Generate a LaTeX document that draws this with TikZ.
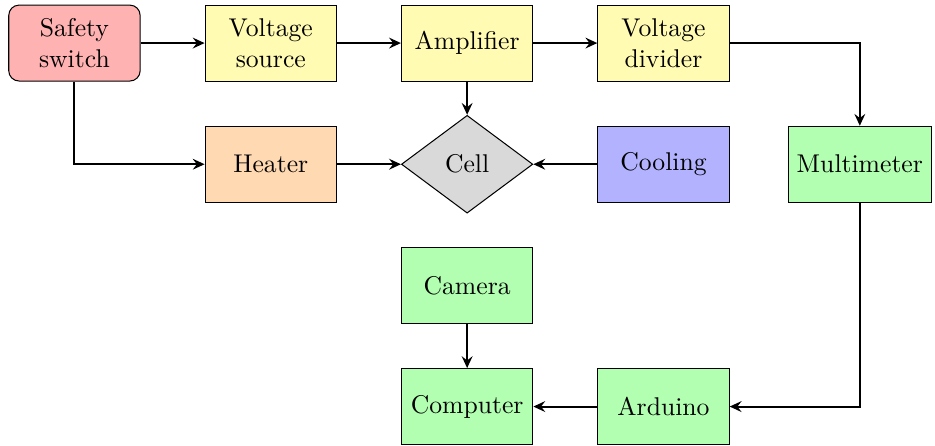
\documentclass[tikz,border=0pt]{standalone}
\usepackage{xcolor}
\usepackage{tikz}
\usetikzlibrary{shapes.geometric, arrows.meta}

\begin{document}
\begin{tikzpicture}[
    box/.style={draw, minimum width=1.8cm, minimum height=1.04cm, align=center},
    cellbox/.style={draw, diamond, fill=gray!30, minimum width=1.8cm, minimum height=1.34cm, inner sep=1pt},
    arr/.style={-{Stealth[length=4.6pt, width=4.2pt, inset=1.6pt]}, thick},
]
\useasboundingbox (0,0) rectangle (12.81,-6.11);

% Supply chain (top row)
\node[box, fill=red!30, rounded corners] (safety) at (1.02,-0.59) {Safety\\switch};
\node[box, fill=yellow!30] (vsrc) at (3.71,-0.59) {Voltage\\source};
\node[box, fill=yellow!30] (amp) at (6.40,-0.59) {Amplifier};
\node[box, fill=yellow!30] (divider) at (9.09,-0.59) {Voltage\\divider};

\draw[arr] (safety) -- (vsrc);
\draw[arr] (vsrc) -- (amp);
\draw[arr] (amp) -- (divider);

% Cell and its surroundings (second row)
\node[box, fill=orange!30] (heater) at (3.71,-2.25) {Heater};
\node[cellbox] (cell) at (6.40,-2.25) {Cell};
\node[box, fill=blue!30] (cooling) at (9.09,-2.25) {Cooling};
\node[box, fill=green!30] (meter) at (11.78,-2.25) {Multimeter};

\draw[arr] (amp) -- (cell);
\draw[arr] (safety) |- (heater);
\draw[arr] (heater) -- (cell);
\draw[arr] (cooling) -- (cell);
\draw[arr] (divider) -| (meter);

% Data acquisition (bottom rows)
\node[box, fill=green!30] (camera) at (6.40,-3.91) {Camera};
\node[box, fill=green!30] (computer) at (6.40,-5.57) {Computer};
\node[box, fill=green!30] (arduino) at (9.09,-5.57) {Arduino};

\draw[arr] (meter) |- (arduino);
\draw[arr] (arduino) -- (computer);
\draw[arr] (camera) -- (computer);

\end{tikzpicture}
\end{document}
